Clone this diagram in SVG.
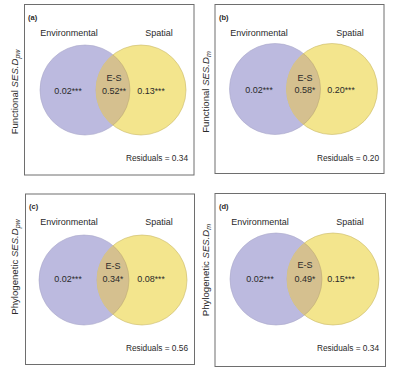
<svg xmlns="http://www.w3.org/2000/svg" width="395" height="372" viewBox="0 0 395 372">
<style>
text{font-family:"Liberation Sans",Arial,sans-serif;fill:#2a2a2a}
.box{fill:#fff;stroke:#6e6e6e;stroke-width:1}
.lab{font-size:7.5px;font-weight:bold}
.hd{font-size:9px;text-anchor:middle}
.val{font-size:9px;text-anchor:middle}
.st{font-size:8.5px}
.res{font-size:8.3px;text-anchor:end}
.yl{font-size:9.6px;text-anchor:middle}
.it{font-style:italic}
.env{fill:#bcbadf;stroke:#a9a7c9;stroke-width:0.6}
.spa{fill:#f3e58d;stroke:#c9b96a;stroke-width:0.6}
.ovl{fill:#d5c08f}
</style>
<defs>
<clipPath id="ca"><circle cx="141" cy="90" r="45"/></clipPath>
<clipPath id="cb"><circle cx="332" cy="89" r="45.5"/></clipPath>
<clipPath id="cc"><circle cx="142" cy="280" r="45"/></clipPath>
<clipPath id="cd"><circle cx="333" cy="279" r="46"/></clipPath>
</defs>

<g id="panel-a">
<rect class="box" x="24.5" y="4.5" width="169.5" height="170.5"/>
<text class="lab" x="28" y="19.5">(a)</text>
<text class="hd" x="69" y="36">Environmental</text>
<text class="hd" x="159" y="36">Spatial</text>
<circle class="env" cx="85" cy="90" r="45"/>
<circle class="spa" cx="141" cy="90" r="45"/>
<circle class="ovl" cx="85" cy="90" r="45" clip-path="url(#ca)"/>
<circle cx="85" cy="90" r="45" fill="none" stroke="#b6a470" stroke-width="0.5" clip-path="url(#ca)"/>
<text class="val" x="68" y="94">0.02<tspan class="st" dy="-0.5">***</tspan></text>
<text class="val" x="114" y="81">E-S</text>
<text class="val" x="114" y="94">0.52<tspan class="st" dy="-0.5">**</tspan></text>
<text class="val" x="151" y="94">0.13<tspan class="st" dy="-0.5">***</tspan></text>
<text class="res" x="188" y="161">Residuals = 0.34</text>
<text class="yl" transform="translate(18,92) rotate(-90)">Functional <tspan class="it">SES.D</tspan><tspan class="it" font-size="7" dy="2">pw</tspan></text>
</g>

<g id="panel-b">
<rect class="box" x="215" y="4.5" width="169" height="169"/>
<text class="lab" x="219" y="19.5">(b)</text>
<text class="hd" x="259" y="36">Environmental</text>
<text class="hd" x="350" y="36">Spatial</text>
<circle class="env" cx="275" cy="89" r="45.5"/>
<circle class="spa" cx="332" cy="89" r="45.5"/>
<circle class="ovl" cx="275" cy="89" r="45.5" clip-path="url(#cb)"/>
<circle cx="275" cy="89" r="45.5" fill="none" stroke="#b6a470" stroke-width="0.5" clip-path="url(#cb)"/>
<text class="val" x="259" y="93">0.02<tspan class="st" dy="-0.5">***</tspan></text>
<text class="val" x="305" y="81">E-S</text>
<text class="val" x="305" y="93">0.58<tspan class="st" dy="-0.5">*</tspan></text>
<text class="val" x="341" y="93">0.20<tspan class="st" dy="-0.5">***</tspan></text>
<text class="res" x="379" y="161">Residuals = 0.20</text>
<text class="yl" transform="translate(209,92) rotate(-90)">Functional <tspan class="it">SES.D</tspan><tspan class="it" font-size="7" dy="2">m</tspan></text>
</g>

<g id="panel-c">
<rect class="box" x="25.5" y="194" width="169" height="170.5"/>
<text class="lab" x="29" y="208.5">(c)</text>
<text class="hd" x="69" y="225">Environmental</text>
<text class="hd" x="159" y="225">Spatial</text>
<circle class="env" cx="84" cy="280" r="45"/>
<circle class="spa" cx="142" cy="280" r="45"/>
<circle class="ovl" cx="84" cy="280" r="45" clip-path="url(#cc)"/>
<circle cx="84" cy="280" r="45" fill="none" stroke="#b6a470" stroke-width="0.5" clip-path="url(#cc)"/>
<text class="val" x="68" y="282">0.02<tspan class="st" dy="-0.5">***</tspan></text>
<text class="val" x="113" y="269">E-S</text>
<text class="val" x="113" y="282">0.34<tspan class="st" dy="-0.5">*</tspan></text>
<text class="val" x="151" y="282">0.08<tspan class="st" dy="-0.5">***</tspan></text>
<text class="res" x="188" y="351">Residuals = 0.56</text>
<text class="yl" transform="translate(18,267) rotate(-90)">Phylogenetic <tspan class="it">SES.D</tspan><tspan class="it" font-size="7" dy="2">pw</tspan></text>
</g>

<g id="panel-d">
<rect class="box" x="215" y="193.5" width="170.5" height="173"/>
<text class="lab" x="219" y="208.5">(d)</text>
<text class="hd" x="260" y="225">Environmental</text>
<text class="hd" x="350" y="225">Spatial</text>
<circle class="env" cx="276" cy="279" r="46"/>
<circle class="spa" cx="333" cy="279" r="46"/>
<circle class="ovl" cx="276" cy="279" r="46" clip-path="url(#cd)"/>
<circle cx="276" cy="279" r="46" fill="none" stroke="#b6a470" stroke-width="0.5" clip-path="url(#cd)"/>
<text class="val" x="260" y="282">0.02<tspan class="st" dy="-0.5">***</tspan></text>
<text class="val" x="305" y="268">E-S</text>
<text class="val" x="305" y="282">0.49<tspan class="st" dy="-0.5">*</tspan></text>
<text class="val" x="341" y="282">0.15<tspan class="st" dy="-0.5">***</tspan></text>
<text class="res" x="379" y="351">Residuals = 0.34</text>
<text class="yl" transform="translate(209,270) rotate(-90)">Phylogenetic <tspan class="it">SES.D</tspan><tspan class="it" font-size="7" dy="2">m</tspan></text>
</g>
</svg>
